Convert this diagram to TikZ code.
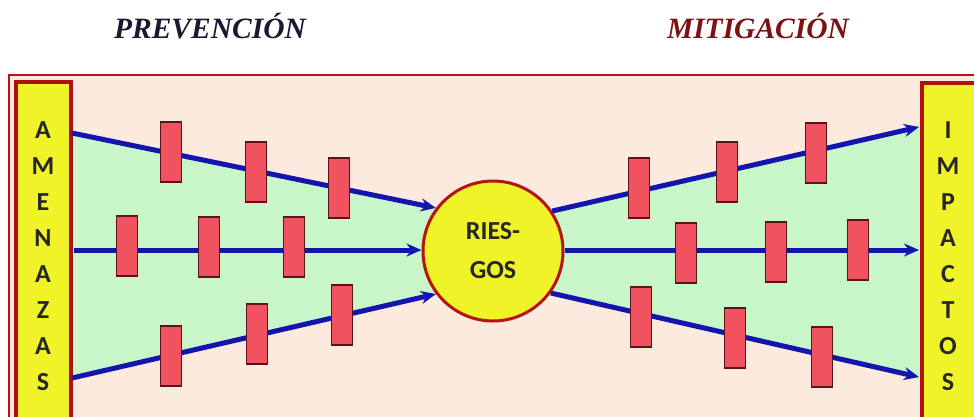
\documentclass[tikz,border=0pt]{standalone}
\usepackage{fontspec}
\setmainfont{Liberation Serif}
\newfontfamily\calib{Carlito}
\usetikzlibrary{arrows.meta}
\definecolor{peach}{RGB}{252,234,222}
\definecolor{mint}{RGB}{200,246,200}
\definecolor{ylw}{RGB}{240,243,40}
\definecolor{barred}{RGB}{175,15,15}
\definecolor{ringred}{RGB}{180,20,20}
\definecolor{blkfill}{RGB}{240,82,96}
\definecolor{blkline}{RGB}{90,20,25}
\definecolor{flowblue}{RGB}{20,20,175}
\definecolor{navy}{RGB}{25,25,50}
\definecolor{darkmaroon}{RGB}{122,20,20}
\tikzset{
  flow/.style={line width=5pt, draw=flowblue, -{Stealth[length=15pt,width=13pt]}},
  barrier/.style={rectangle, draw=blkline, fill=blkfill, line width=1.3pt, minimum width=21pt, minimum height=60pt, inner sep=0pt},
  sidebar/.style={draw=barred, fill=ylw, line width=4pt},
  barletter/.style={font=\calib\bfseries\fontsize{26}{28}\selectfont, text=black!85, inner sep=0pt},
  title/.style={font=\bfseries\itshape\fontsize{29.5}{31}\selectfont, anchor=base, inner sep=0pt}
}
\begin{document}
\begin{tikzpicture}[x=1pt,y=-1pt]
\useasboundingbox (0,0) rectangle (974,416);
\begin{scope}
\clip (0,0) rectangle (974,416);
\fill[white] (0,0) rectangle (974,416);
% outer frame
\draw[ringred, line width=1.2pt, fill=peach] (9,75) rectangle (990,440);
% green funnels
\fill[mint] (72,131) -- (445,212) -- (445,292) -- (72,380) -- cycle;
\fill[mint] (540,214) -- (921,124) -- (921,381) -- (540,290) -- cycle;
% side bars
\draw[sidebar] (16,82) rectangle (71,440);
\draw[sidebar] (922,83) rectangle (995,440);
\node[draw=none, inner sep=0pt] (amen) at (43,250) {};
\node[draw=none, inner sep=0pt] (imp) at (948,250) {};
\foreach \l [count=\i] in {A,M,E,N,A,Z,A,S}
  \node[barletter] (amen\i) at (43,{130+36*(\i-1)}) {\l};
\foreach \l [count=\i] in {I,M,P,A,C,T,O,S}
  \node[barletter] (imp\i) at (948,{130+36*(\i-1)}) {\l};
% central circle
\node[circle, minimum size=140pt, inner sep=0pt, fill=ylw, draw=ringred, line width=3pt,
      font=\calib\bfseries\fontsize{26}{39}\selectfont, align=center, text=black!85] (riesgos) at (493,251) {RIES-\\GOS};
% end points
\coordinate (l1) at (72,133);
\coordinate (l2) at (74,250);
\coordinate (l3) at (72,378);
\coordinate (r1) at (919,127);
\coordinate (r2) at (919,250);
\coordinate (r3) at (919,377);
% arrows
\draw[flow] (l1) -- (riesgos.143);
\draw[flow] (l2) -- (riesgos.west |- l2);
\draw[flow] (l3) -- (riesgos.217);
\draw[flow] (riesgos.34) -- (r1);
\draw[flow] (riesgos.east |- r2) -- (r2);
\draw[flow] (riesgos.-36) -- (r3);
% barriers left
\node[barrier] (b1) at (171,152) {};
\node[barrier] (b2) at (256,172) {};
\node[barrier] (b3) at (339,188) {};
\node[barrier] (b4) at (127,246) {};
\node[barrier] (b5) at (209,247) {};
\node[barrier] (b6) at (294,247) {};
\node[barrier] (b7) at (171,356) {};
\node[barrier] (b8) at (257,334) {};
\node[barrier] (b9) at (342,315) {};
% barriers right
\node[barrier] (c1) at (639,188) {};
\node[barrier] (c2) at (727,172) {};
\node[barrier] (c3) at (816,153) {};
\node[barrier] (c4) at (686,253) {};
\node[barrier] (c5) at (776,252) {};
\node[barrier] (c6) at (858,250) {};
\node[barrier] (c7) at (641,317) {};
\node[barrier] (c8) at (735,338) {};
\node[barrier] (c9) at (822,357) {};
% titles
\node[title, text=navy] (prev) at (210,38) {PREVENCIÓN};
\node[title, text=darkmaroon] (mitig) at (758,38) {MITIGACIÓN};
\end{scope}
\end{tikzpicture}
\end{document}
